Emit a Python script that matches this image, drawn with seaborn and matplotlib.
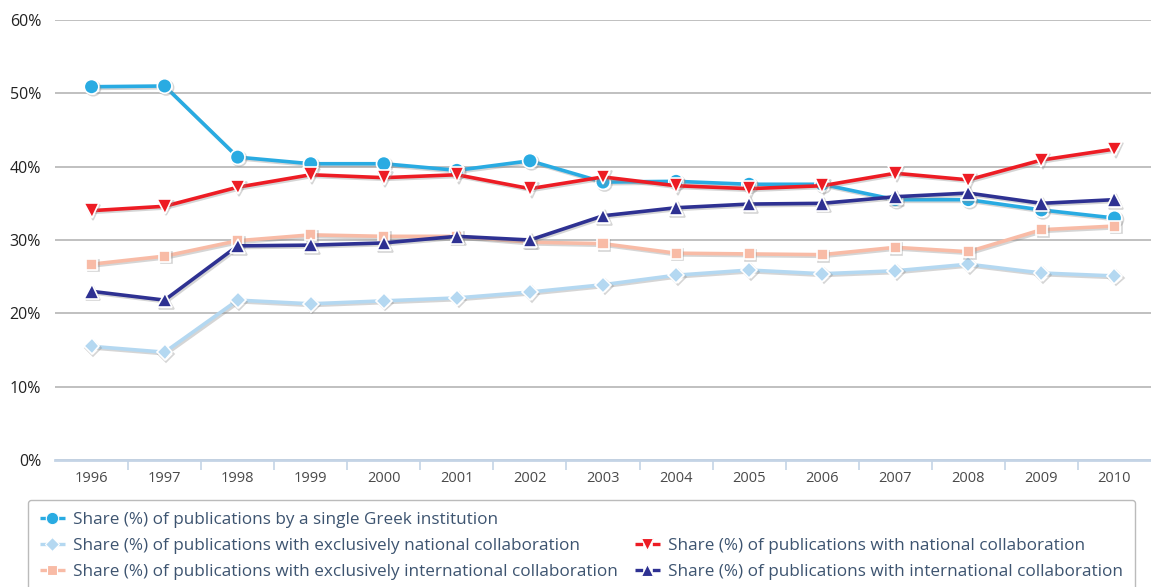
import matplotlib
matplotlib.use("Agg")
import matplotlib.pyplot as plt
import matplotlib.patheffects as pe
from matplotlib.lines import Line2D
from matplotlib.ticker import FixedLocator, PercentFormatter
import pandas as pd
import seaborn as sns

years = list(range(1996, 2011))

single_greek = [50.9, 51.0, 41.3, 40.4, 40.4, 39.5, 40.8, 37.9, 38.0, 37.6, 37.6, 35.5, 35.5, 34.1, 33.0]
excl_national = [15.5, 14.7, 21.8, 21.3, 21.7, 22.1, 22.9, 23.9, 25.2, 25.9, 25.4, 25.8, 26.7, 25.5, 25.1]
excl_international = [26.7, 27.8, 29.9, 30.7, 30.5, 30.5, 29.7, 29.5, 28.2, 28.1, 28.0, 29.0, 28.4, 31.4, 31.9]
national = [34.0, 34.6, 37.2, 38.9, 38.5, 38.9, 37.0, 38.6, 37.4, 37.0, 37.4, 39.1, 38.2, 40.9, 42.4]
international = [23.0, 21.8, 29.2, 29.3, 29.6, 30.5, 30.0, 33.3, 34.4, 34.9, 35.0, 35.9, 36.4, 35.0, 35.5]

names = [
    "Share (%) of publications by a single Greek institution",
    "Share (%) of publications with exclusively national collaboration",
    "Share (%) of publications with exclusively international collaboration",
    "Share (%) of publications with national collaboration",
    "Share (%) of publications with international collaboration",
]
series = [single_greek, excl_national, excl_international, national, international]
colors = ["#29abe2", "#b4d8f1", "#f8bba6", "#ed1c24", "#2e3192"]
markers = ["o", "D", "s", "v", "^"]
msizes = [10.5, 8, 8, 10.5, 10.5]

rows = []
for name, vals in zip(names, series):
    for y, v in zip(years, vals):
        rows.append({"year": y, "share": v, "series": name})
df = pd.DataFrame(rows)

sns.set_style("white")
plt.rcParams["font.family"] = ["Open Sans", "DejaVu Sans"]

fig = plt.figure(figsize=(11.51, 5.87), dpi=100)
ax = fig.add_axes([55 / 1151, 1 - 460 / 587, 1 - 55 / 1151, 440 / 587])

# light drop shadow under each line, like the original
shadow = [pe.SimpleLineShadow(offset=(1.2, -1.2), shadow_color="#888888", alpha=0.35), pe.Normal()]
for name, col, mk, ms in zip(names, colors, markers, msizes):
    sns.lineplot(data=df[df["series"] == name], x="year", y="share", color=col,
                 marker=mk, markersize=ms, markeredgecolor="white", markeredgewidth=1.2,
                 linewidth=2.6, ax=ax, legend=False, path_effects=shadow, zorder=3)

ax.set_xlim(1995.5, 2010.5)
ax.set_ylim(0, 60)
ax.set_yticks(range(0, 61, 10))
ax.yaxis.set_major_formatter(PercentFormatter(decimals=0))
ax.set_xticks(years)
ax.xaxis.set_minor_locator(FixedLocator([y + 0.5 for y in years[:-1]]))
ax.tick_params(axis="x", which="major", length=0, pad=8, labelsize=10.5, labelcolor="#4a4a4a")
ax.tick_params(axis="x", which="minor", length=7, width=1.2, color="#c4d4e6", direction="out", bottom=True)
ax.tick_params(axis="y", length=0, pad=10, labelsize=11.5, labelcolor="#222222")
ax.grid(axis="y", color="#b5b5b5", linewidth=1.2)
ax.set_axisbelow(True)
for s in ["top", "right", "left"]:
    ax.spines[s].set_visible(False)
ax.spines["bottom"].set_color("#c4d4e6")
ax.spines["bottom"].set_linewidth(2)
ax.spines["bottom"].set_zorder(2)
ax.set_xlabel("")
ax.set_ylabel("")

handles = []
for col, mk, ms in zip(colors, markers, msizes):
    handles.append(Line2D([], [], color=col, marker=mk, markersize=ms * 0.85, markeredgecolor="white",
                          markeredgewidth=0.8, linewidth=2.4, linestyle=(0, (2.3, 2.9))))
blank = Line2D([], [], linestyle="none", marker=None)
order_h = [handles[0], handles[1], handles[2], blank, handles[3], handles[4]]
order_l = [names[0], names[1], names[2], "", names[3], names[4]]
leg = fig.legend(order_h, order_l, ncol=2, loc="upper left",
                 bbox_to_anchor=(28 / 1151, 0, 1107 / 1151, 1 - 500 / 587), mode="expand",
                 frameon=True, fancybox=True, edgecolor="#aaaaaa", fontsize=12.3,
                 handlelength=1.45, handletextpad=0.5, labelspacing=0.6, borderpad=0.7,
                 borderaxespad=0)
leg.get_frame().set_linewidth(1.0)
for t in leg.get_texts():
    t.set_color("#3d5470")

fig.savefig("out.png", dpi=100)
